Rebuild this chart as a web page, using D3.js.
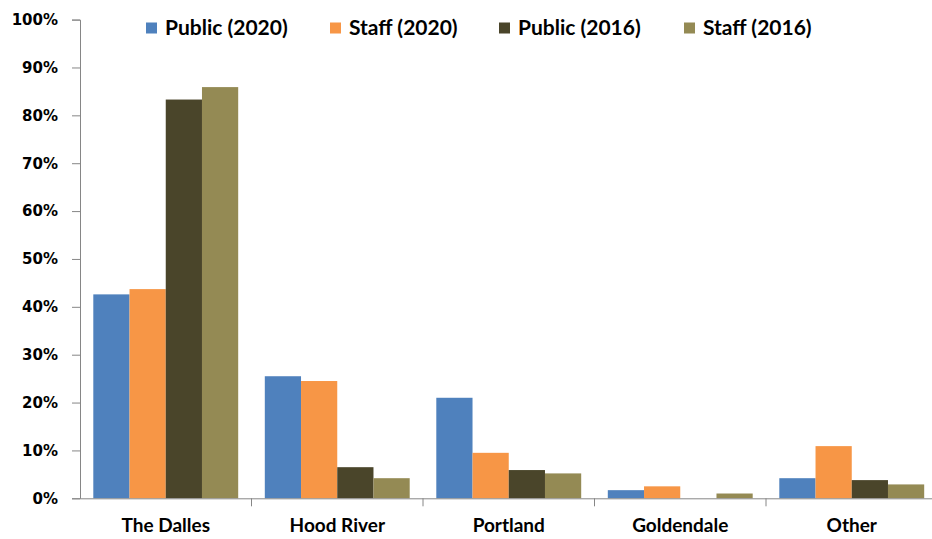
<!DOCTYPE html>
<html>
<head>
<meta charset="utf-8">
<script src="https://cdn.jsdelivr.net/npm/d3@7"></script>
<style>
  html, body { margin: 0; padding: 0; background: #fff; }
  svg { display: block; }
</style>
</head>
<body>
<svg id="chart" width="932" height="539"></svg>
<script>
const categories = ["The Dalles", "Hood River", "Portland", "Goldendale", "Other"];
const seriesNames = ["Public (2020)", "Staff (2020)", "Public (2016)", "Staff (2016)"];
const public2020 = [0.426, 0.255, 0.210, 0.017, 0.042];
const staff2020  = [0.437, 0.245, 0.095, 0.025, 0.109];
const public2016 = [0.833, 0.065, 0.059, 0.000, 0.038];
const staff2016  = [0.859, 0.042, 0.052, 0.010, 0.029];
const yTicks = [0, 0.1, 0.2, 0.3, 0.4, 0.5, 0.6, 0.7, 0.8, 0.9, 1.0];
const colors = ["#4F81BD", "#F79646", "#4A452A", "#948A54"];

const seriesValues = [public2020, staff2020, public2016, staff2016];

(function () {
const svg = d3.select("#chart");
const mLeft = 80, mRight = 937.5, mTop = 19.6, mBottom = 498.3;

const x0 = d3.scaleBand().domain(categories).range([mLeft, mRight]).paddingInner(0).paddingOuter(0);
const groupPad = 13.3;
const x1 = d3.scaleBand().domain(seriesNames).range([groupPad, x0.bandwidth() - groupPad]).padding(0);
const y = d3.scaleLinear().domain([0, 1]).range([mBottom, mTop]);

// bars
const groups = svg.append("g").selectAll("g")
  .data(categories)
  .join("g")
  .attr("transform", c => `translate(${x0(c)},0)`);

groups.selectAll("rect")
  .data((c, i) => seriesNames.map((s, j) => ({ s, j, v: seriesValues[j][i] })))
  .join("rect")
  .attr("x", d => x1(d.s))
  .attr("width", x1.bandwidth())
  .attr("y", d => y(d.v))
  .attr("height", d => y(0) - y(d.v))
  .attr("fill", d => colors[d.j]);

// y axis
const yAxis = d3.axisLeft(y).tickValues(yTicks).tickFormat(d3.format(".0%")).tickSizeOuter(0).tickSize(8).tickPadding(14);
const yg = svg.append("g").attr("transform", `translate(${mLeft},0)`).call(yAxis);
yg.select(".domain").attr("stroke", "#868686");
yg.selectAll(".tick line").attr("stroke", "#868686");
yg.selectAll(".tick text")
  .attr("fill", "#000")
  .style("font-family", "'DejaVu Sans', Verdana, sans-serif")
  .style("font-weight", "bold")
  .style("font-size", "15px");

// x axis
const xAxis = d3.axisBottom(x0).tickSize(0).tickPadding(20).tickSizeOuter(0);
const xg = svg.append("g").attr("transform", `translate(0,${mBottom})`).call(xAxis);
xg.select(".domain").attr("stroke", "#868686");
xg.selectAll(".tick text")
  .attr("fill", "#000")
  .style("font-family", "Lato, 'Open Sans', sans-serif")
  .style("font-weight", "bold")
  .style("font-size", "19px");
// category separators
xg.selectAll(".sep")
  .data(categories.slice(1))
  .join("line")
  .attr("class", "sep")
  .attr("x1", c => x0(c)).attr("x2", c => x0(c))
  .attr("y1", 0).attr("y2", 8)
  .attr("stroke", "#868686");

// legend
const legendX = [146, 330, 499, 684];
const legend = svg.append("g").selectAll("g")
  .data(seriesNames)
  .join("g")
  .attr("transform", (d, i) => `translate(${legendX[i]},22.5)`);
legend.append("rect").attr("width", 11).attr("height", 11).attr("fill", (d, i) => colors[i]);
legend.append("text")
  .attr("x", 19).attr("y", 12.5)
  .text(d => d)
  .attr("fill", "#000")
  .style("font-family", "Lato, 'Open Sans', sans-serif")
  .style("font-weight", "bold")
  .style("font-size", "21px");
})();
</script>
</body>
</html>
